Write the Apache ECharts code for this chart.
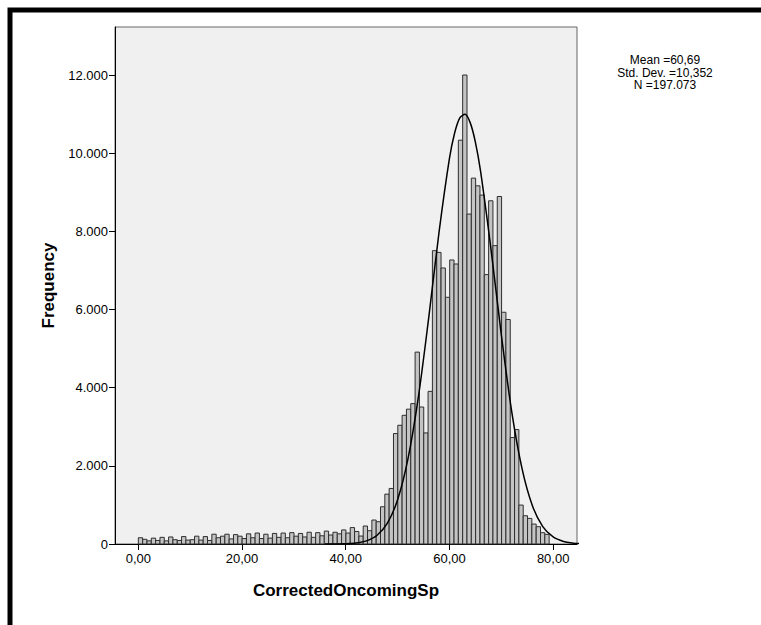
<!DOCTYPE html>
<html>
<head>
<meta charset="utf-8">
<script src="https://cdn.jsdelivr.net/npm/echarts@6/dist/echarts.min.js"></script>
<style>
html, body { margin: 0; padding: 0; background: #fff; }
#main { width: 761px; height: 625px; }
</style>
</head>
<body>
<div id="main"></div>
<script>
// histogram bins: start, width, counts
var binStart = 0;
var binWidth = 0.834;
var counts = [
    160, 120, 80, 150, 90, 170, 80, 180, 110, 90,
    190, 100, 110, 200, 100, 190, 90, 250, 160, 200,
    250, 130, 240, 200, 140, 260, 160, 280, 140, 250,
    150, 270, 170, 280, 160, 290, 200, 270, 180, 300,
    170, 290, 210, 330, 230, 300, 260, 360, 280, 420,
    320, 204, 460, 340, 613, 570, 953, 1276, 1421, 2826,
    3038, 3293, 3450, 3592, 4910, 3505, 2842, 3906, 7506, 7462,
    7063, 6313, 7268, 7165, 10332, 12000, 8442, 9362, 9165, 8928,
    6893, 8782, 7634, 8892, 5930, 5744, 2724, 2928, 996, 723,
    655, 510, 443, 289, 247
];
// normal curve as drawn
var curveX = [36, 38, 40, 42, 44, 46, 48, 50, 52, 54, 56, 58, 60, 61, 62, 63, 64, 65, 66, 68, 70, 72, 74, 76, 78, 80, 82, 84, 85];
var curveY = [0, 2, 8, 27, 81, 218, 525, 1131, 2178, 3752, 5787, 7986, 9865, 10516, 10902, 10994, 10782, 10285, 9541, 7556, 5355, 3395, 1927, 978, 445, 181, 66, 21, 12];
var xTicks = [0, 20, 40, 60, 80];
var yTicks = [0, 2000, 4000, 6000, 8000, 10000, 12000];
var statLines = ['Mean =60,69', 'Std. Dev. =10,352', 'N =197.073'];

var font = 'Arial, "Liberation Sans", sans-serif';

var bins = counts.map(function (c, i) {
    var x0 = binStart + i * binWidth;
    return [x0, x0 + binWidth, c];
});
var curve = curveX.map(function (x, i) { return [x, curveY[i]]; });

var myChart = echarts.init(document.getElementById('main'), null, { renderer: 'svg' });
option = {
    backgroundColor: '#fff',
    animation: false,
    grid: {
        left: 115,
        right: 184,
        top: 27,
        bottom: 81,
        show: true,
        backgroundColor: '#f0f0f0',
        borderColor: '#666',
        borderWidth: 1
    },
    xAxis: {
        type: 'value',
        min: -4.5,
        max: 84.6,
        name: 'CorrectedOncomingSp',
        nameLocation: 'middle',
        nameGap: 38,
        nameTextStyle: { fontFamily: font, fontSize: 17, fontWeight: 'bold', color: '#000' },
        axisLine: { show: true, onZero: false, lineStyle: { color: '#000', width: 1 } },
        axisTick: { show: true, length: 6, customValues: xTicks, lineStyle: { color: '#000' } },
        axisLabel: {
            customValues: xTicks,
            margin: 8,
            fontFamily: font,
            fontSize: 13,
            color: '#000',
            formatter: function (v) { return v.toFixed(2).replace('.', ','); }
        },
        splitLine: { show: false }
    },
    yAxis: {
        type: 'value',
        min: 0,
        max: 13229,
        name: 'Frequency',
        nameLocation: 'middle',
        nameGap: 52,
        nameRotate: 90,
        nameTextStyle: { fontFamily: font, fontSize: 17, fontWeight: 'bold', color: '#000' },
        axisLine: { show: true, onZero: false, lineStyle: { color: '#000', width: 1 } },
        axisTick: { show: true, length: 6, customValues: yTicks, lineStyle: { color: '#000' } },
        axisLabel: {
            customValues: yTicks,
            margin: 7,
            fontFamily: font,
            fontSize: 13,
            color: '#000',
            formatter: function (v) { return String(v).replace(/\B(?=(\d{3})+(?!\d))/g, '.'); }
        },
        splitLine: { show: false }
    },
    graphic: [
        {
            type: 'polyline',
            shape: { points: [[10, 625], [10, 10], [761, 10]] },
            style: { stroke: '#000', lineWidth: 5, fill: null }
        },
        {
            type: 'text',
            x: 665,
            y: 54,
            style: {
                text: statLines.join('\n'),
                align: 'center',
                verticalAlign: 'top',
                fontFamily: font,
                fontSize: 12,
                lineHeight: 12.5,
                fill: '#000'
            }
        }
    ],
    series: [
        {
            type: 'custom',
            data: bins,
            encode: { x: [0, 1], y: 2 },
            renderItem: function (params, api) {
                var p0 = api.coord([api.value(0), 0]);
                var p1 = api.coord([api.value(1), api.value(2)]);
                return {
                    type: 'rect',
                    shape: { x: p0[0], y: p1[1], width: p1[0] - p0[0], height: p0[1] - p1[1] },
                    style: { fill: '#c4c4c4', stroke: '#2e2e2e', lineWidth: 1 }
                };
            },
            z: 2
        },
        {
            type: 'line',
            data: curve,
            smooth: 0.3,
            showSymbol: false,
            symbol: 'none',
            lineStyle: { color: '#000', width: 1.5 },
            z: 3
        }
    ]
};
myChart.setOption(option);
</script>
</body>
</html>
